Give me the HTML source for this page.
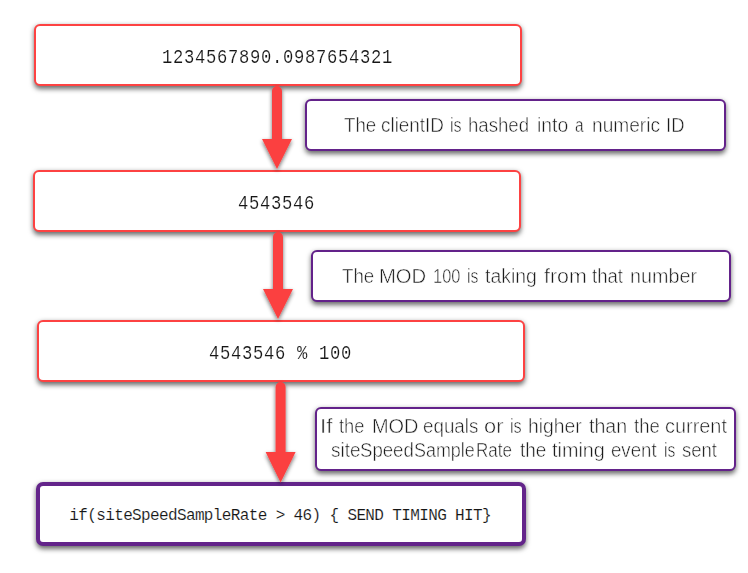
<!DOCTYPE html>
<html>
<head>
<meta charset="utf-8">
<title>Site Speed Sample Rate</title>
<style>
  html, body { margin: 0; padding: 0; background: #ffffff; }
  body { width: 748px; height: 573px; position: relative; overflow: hidden; }
  .box {
    position: absolute; box-sizing: border-box; background: #ffffff;
    border-radius: 6px;
    box-shadow: 0 2.5px 5.5px rgba(0,0,0,0.58);
  }
  .red { border: 2px solid #fd4242; }
  .pur { border: 2px solid #63228a; }
  .pur4 { border: 4px solid #63248a; border-radius: 7px; }
  .t { position: absolute; white-space: pre; line-height: 1; }
  .mono { font-family: "Liberation Mono", monospace; color: #161616; }
  .m1 { font-size: 19.5px; letter-spacing: 0.8px; transform: scaleX(0.88); transform-origin: 0 0; -webkit-text-stroke: 0.15px #ffffff; }
  .m2 { font-size: 16px; letter-spacing: -0.63px; -webkit-text-stroke: 0.12px #ffffff; }
  .sans { font-family: "Liberation Sans", sans-serif; color: #1c1c1c; font-size: 19.5px; -webkit-text-stroke: 0.5px #ffffff; }
  .w { transform-origin: 0 0; }
  svg { position: absolute; left: 0; top: 0; }
</style>
</head>
<body>

<!-- red boxes -->
<div class="box red" style="left:34px; top:24px; width:488px; height:62px;"></div>
<div class="box red" style="left:33px; top:170px; width:488px; height:62px;"></div>
<div class="box red" style="left:37px; top:320px; width:488px; height:62px;"></div>

<!-- purple note boxes -->
<div class="box pur" style="left:305px; top:99px; width:421px; height:52px;"></div>
<div class="box pur" style="left:311px; top:250px; width:420px; height:52px;"></div>
<div class="box pur" style="left:315px; top:407px; width:421px; height:64px;"></div>

<!-- final box -->
<div class="box pur4" style="left:36px; top:482px; width:490px; height:64px;"></div>

<!-- arrows -->
<svg width="748" height="573" viewBox="0 0 748 573">
  <defs>
    <filter id="sh" x="-50%" y="-20%" width="200%" height="140%">
      <feGaussianBlur in="SourceAlpha" stdDeviation="2"/>
      <feOffset dx="0" dy="2" result="b"/>
      <feComponentTransfer><feFuncA type="linear" slope="0.58"/></feComponentTransfer>
      <feMerge><feMergeNode/><feMergeNode in="SourceGraphic"/></feMerge>
    </filter>
  </defs>
  <g fill="#fb4040" filter="url(#sh)">
    <path d="M272 91 a5 5 0 0 1 10 0 V139 H292 L277 169 L262 139 H272 Z"/>
    <path d="M273 237 a5 5 0 0 1 10 0 V289 H293 L278 319 L263 289 H273 Z"/>
    <path d="M275.6 387 a5 5 0 0 1 10 0 V452 H295.6 L280.6 482.6 L265.6 452 H275.6 Z"/>
  </g>
</svg>

<!-- mono text -->
<div id="m1" class="t mono m1" style="left:162px; top:49px;">1234567890.0987654321</div>
<div id="m2" class="t mono m1" style="left:237.5px; top:195px;">4543546</div>
<div id="m3" class="t mono m1" style="left:209px; top:345px;">4543546 % 100</div>
<div id="m4" class="t mono m2" style="left:69.3px; top:508px;">if(siteSpeedSampleRate &gt; 46) { SEND TIMING HIT}</div>

<!-- sans text -->
<div class="t sans w" style="left:344.30px; top:116px; transform:scaleX(0.9576);">The</div>
<div class="t sans w" style="left:380.63px; top:116px; transform:scaleX(0.9683);">clientID</div>
<div class="t sans w" style="left:449.98px; top:116px; transform:scaleX(0.8231);">is</div>
<div class="t sans w" style="left:468.45px; top:116px; transform:scaleX(0.9548);">hashed</div>
<div class="t sans w" style="left:536.51px; top:116px; transform:scaleX(0.9933);">into</div>
<div class="t sans w" style="left:575.41px; top:116px; transform:scaleX(0.7900);">a</div>
<div class="t sans w" style="left:591.52px; top:116px; transform:scaleX(0.9809);">numeric</div>
<div class="t sans w" style="left:665.71px; top:116px; transform:scaleX(0.9471);">ID</div>
<div class="t sans w" style="left:341.90px; top:267px; transform:scaleX(0.9576);">The</div>
<div class="t sans w" style="left:379.46px; top:267px; transform:scaleX(1.0386);">MOD</div>
<div class="t sans w" style="left:433.16px; top:267px; transform:scaleX(0.8419);">100</div>
<div class="t sans w" style="left:467.19px; top:267px; transform:scaleX(0.8077);">is</div>
<div class="t sans w" style="left:485.40px; top:267px; transform:scaleX(0.9961);">taking</div>
<div class="t sans w" style="left:543.50px; top:267px; transform:scaleX(1.0974);">from</div>
<div class="t sans w" style="left:591.50px; top:267px; transform:scaleX(0.9515);">that</div>
<div class="t sans w" style="left:629.89px; top:267px; transform:scaleX(1.0138);">number</div>
<div class="t sans w" style="left:320.01px; top:416.7px; transform:scaleX(1.1444);">If</div>
<div class="t sans w" style="left:338.80px; top:416.7px; transform:scaleX(0.9370);">the</div>
<div class="t sans w" style="left:371.58px; top:416.7px; transform:scaleX(1.0227);">MOD</div>
<div class="t sans w" style="left:423.34px; top:416.7px; transform:scaleX(0.9643);">equals</div>
<div class="t sans w" style="left:483.88px; top:416.7px; transform:scaleX(1.1187);">or</div>
<div class="t sans w" style="left:509.77px; top:416.7px; transform:scaleX(0.8308);">is</div>
<div class="t sans w" style="left:528.31px; top:416.7px; transform:scaleX(0.9925);">higher</div>
<div class="t sans w" style="left:589.30px; top:416.7px; transform:scaleX(1.0054);">than</div>
<div class="t sans w" style="left:633.50px; top:416.7px; transform:scaleX(0.9481);">the</div>
<div class="t sans w" style="left:665.18px; top:416.7px; transform:scaleX(1.0200);">current</div>
<div class="t sans w" style="left:330.93px; top:441.3px; transform:scaleX(0.9724);">site</div>
<div class="t sans w" style="left:360.15px; top:441.3px; transform:scaleX(0.9537);">Speed</div>
<div class="t sans w" style="left:413.68px; top:441.3px; transform:scaleX(0.9185);">Sample</div>
<div class="t sans w" style="left:476.43px; top:441.3px; transform:scaleX(0.8725);">Rate</div>
<div class="t sans w" style="left:519.50px; top:441.3px; transform:scaleX(0.9704);">the</div>
<div class="t sans w" style="left:552.30px; top:441.3px; transform:scaleX(1.0157);">timing</div>
<div class="t sans w" style="left:611.44px; top:441.3px; transform:scaleX(0.9553);">event</div>
<div class="t sans w" style="left:664.20px; top:441.3px; transform:scaleX(0.8000);">is</div>
<div class="t sans w" style="left:681.65px; top:441.3px; transform:scaleX(0.9500);">sent</div>

</body>
</html>
